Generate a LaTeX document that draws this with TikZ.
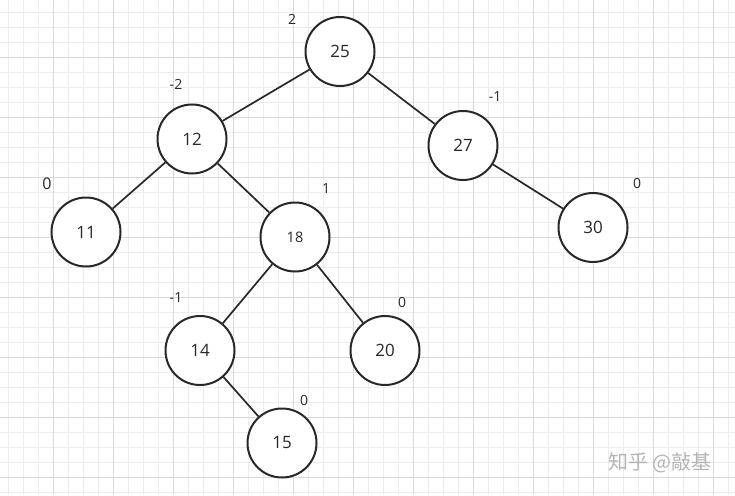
\documentclass[tikz,border=0pt]{standalone}
\usepackage{fontspec}
\setmainfont{Open Sans}
\newfontfamily\cjk{Noto Sans CJK SC}
\begin{document}
\begin{tikzpicture}[x=1pt, y=-1pt, font=\fontsize{17}{20}\selectfont]
  \definecolor{minorline}{RGB}{236,236,236}
  \definecolor{majorline}{RGB}{216,216,216}
  \definecolor{inkgray}{RGB}{40,40,40}
  \definecolor{markgray}{RGB}{180,180,180}
  \tikzset{
    vertex/.style={circle, draw=inkgray, line width=2pt, fill=white, minimum size=69pt, inner sep=0pt, text=inkgray},
    balance/.style={font=\fontsize{14}{16}\selectfont, text=inkgray},
    link/.style={draw=inkgray, line width=1.7pt}
  }
  \useasboundingbox (0,0) rectangle (735,495);
  \fill[white] (0,0) rectangle (735,495);
  % grid paper
  \foreach \x in {8,23,...,728} \draw[minorline, line width=1pt] (\x,0) -- (\x,495);
  \foreach \y in {12.5,27.5,...,492.5} \draw[minorline, line width=1pt] (0,\y) -- (735,\y);
  \foreach \x in {53,113,...,713} \draw[majorline, line width=1pt] (\x,0) -- (\x,495);
  \foreach \y in {57.5,117.5,...,477.5} \draw[majorline, line width=1pt] (0,\y) -- (735,\y);
  % tree
  \node[vertex] (n25) at (340,51.5) {25};
  \node[vertex] (n12) at (192,139) {12};
  \node[vertex] (n27) at (463,145.5) {27};
  \node[vertex] (n11) at (86,232) {11};
  \node[vertex, font=\fontsize{14.5}{17}\selectfont] (n18) at (295,237) {18};
  \node[vertex] (n30) at (593,227.5) {30};
  \node[vertex] (n14) at (200,350.5) {14};
  \node[vertex] (n20) at (385,350.5) {20};
  \node[vertex] (n15) at (282,443) {15};
  \draw[link] (n25) -- (n12);
  \draw[link] (n25) -- (n27);
  \draw[link] (n12) -- (n11);
  \draw[link] (n12) -- (n18);
  \draw[link] (n27) -- (n30);
  \draw[link] (n18) -- (n14);
  \draw[link] (n18) -- (n20);
  \draw[link] (n14) -- (n15);
  % balance factors
  \node[balance] (b25) at (292,19) {2};
  \node[balance] (b12) at (176,84) {-2};
  \node[balance] (b27) at (495,97) {-1};
  \node[balance, font=\fontsize{16}{18}\selectfont] (b11) at (47,183.5) {0};
  \node[balance] (b18) at (326,189) {1};
  \node[balance] (b30) at (637,183) {0};
  \node[balance] (b14) at (176,297) {-1};
  \node[balance] (b20) at (402,302) {0};
  \node[balance] (b15) at (304,400) {0};
  % watermark
  \node[text=markgray, font=\cjk\fontsize{20}{24}\selectfont] (mark) at (660,463) {知乎 @敲基};
\end{tikzpicture}
\end{document}
